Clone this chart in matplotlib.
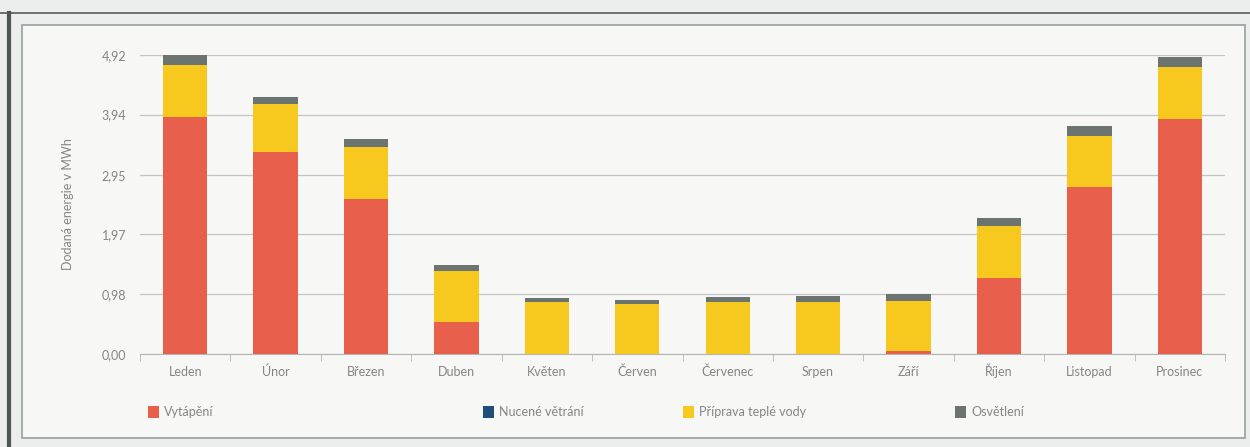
import numpy as np
import matplotlib.pyplot as plt
from matplotlib.patches import Rectangle
from matplotlib.lines import Line2D

plt.rcParams['font.family'] = ['Lato', 'DejaVu Sans']

# data (MWh)
months = ["Leden", "Únor", "Březen", "Duben", "Květen", "Červen",
          "Červenec", "Srpen", "Září", "Říjen", "Listopad", "Prosinec"]
vytapeni = [3.90, 3.32, 2.55, 0.53, 0.0, 0.0, 0.0, 0.0, 0.05, 1.25, 2.75, 3.86]
vetrani = [0.0] * 12
tepla_voda = [0.85, 0.79, 0.85, 0.84, 0.85, 0.82, 0.86, 0.86, 0.83, 0.86, 0.84, 0.87]
osvetleni = [0.17, 0.12, 0.13, 0.10, 0.07, 0.07, 0.07, 0.10, 0.10, 0.12, 0.16, 0.16]
yticks = [0.0, 0.98, 1.97, 2.95, 3.94, 4.92]
ytick_labels = ["0,00", "0,98", "1,97", "2,95", "3,94", "4,92"]

series = [
    ("Vytápění", vytapeni, "#e8604c"),
    ("Nucené větrání", vetrani, "#1f4e79"),
    ("Příprava teplé vody", tepla_voda, "#f7c81e"),
    ("Osvětlení", osvetleni, "#6b7470"),
]

text_col = "#858585"

fig = plt.figure(figsize=(12.5, 4.47), dpi=100)
fig.patch.set_facecolor("#eceeed")

# frame decorations
fig.add_artist(Rectangle((22 / 1250, 1 - 438 / 447), 1223 / 1250, 413 / 447,
                         transform=fig.transFigure, facecolor="#f7f7f6",
                         edgecolor="#9a9f9c", linewidth=1.2, zorder=0))
fig.add_artist(Line2D([0, 1], [1 - 13 / 447] * 2, transform=fig.transFigure,
                      color="#555b58", linewidth=1.2))
fig.add_artist(Line2D([9 / 1250] * 2, [0, 1 - 13 / 447], transform=fig.transFigure,
                      color="#4d5551", linewidth=3))

ax = fig.add_axes([140 / 1250, 1 - 354 / 447, 1085 / 1250, 299 / 447])
ax.set_facecolor("none")

x = np.arange(len(months))
bottom = np.zeros(len(months))
for name, vals, col in series:
    vals = np.array(vals)
    ax.bar(x, vals, width=0.49, bottom=bottom, color=col, label=name, zorder=3)
    bottom += vals

ax.set_xlim(-0.5, len(months) - 0.5)
ax.set_ylim(0, 4.92)
ax.set_yticks(yticks)
ax.set_yticklabels(ytick_labels)
ax.set_xticks(x)
ax.set_xticklabels(months)
ax.set_xticks(np.arange(-0.5, len(months)), minor=True)
ax.tick_params(axis="x", which="major", length=0, pad=16, labelsize=9, labelcolor=text_col)
ax.tick_params(axis="x", which="minor", length=5, color="#b5b5b5", direction="out")
ax.tick_params(axis="y", length=0, pad=10, labelsize=9, labelcolor=text_col)
for lab in ax.get_xticklabels():
    lab.set_va("baseline")
ax.grid(axis="y", color="#c4c4c4", linewidth=0.9, zorder=0)
for s in ["left", "right", "top"]:
    ax.spines[s].set_visible(False)
ax.spines["bottom"].set_color("#b5b5b5")

ax.set_ylabel("Dodaná energie v MWh", fontsize=9, color=text_col, labelpad=20)

# legend entries placed along the bottom
leg_x = [148, 483, 683, 955]
for (name, vals, col), lx in zip(series, leg_x):
    fig.add_artist(Rectangle((lx / 1250, 1 - 418 / 447), 11 / 1250, 12 / 447,
                             transform=fig.transFigure, facecolor=col, edgecolor="none"))
    fig.text((lx + 16) / 1250, 1 - 412 / 447, name, fontsize=9, color=text_col,
             va="center", ha="left")

plt.savefig("out.png", dpi=100, facecolor=fig.get_facecolor())
